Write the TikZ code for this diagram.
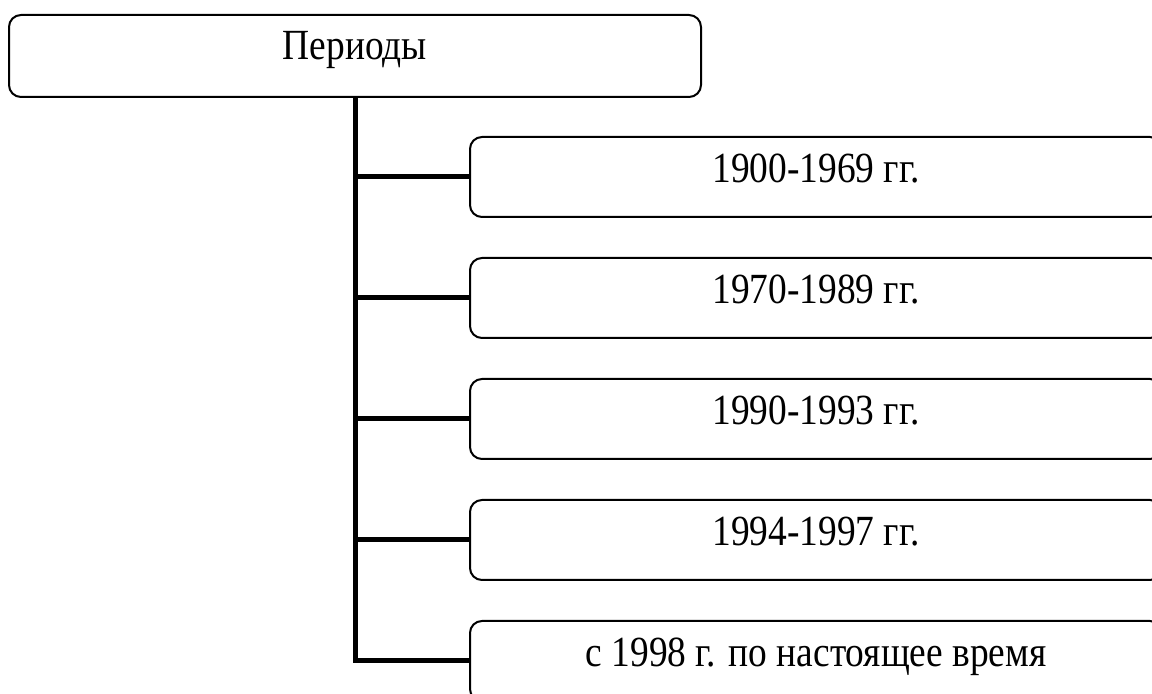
\documentclass[tikz,border=0pt]{standalone}
\usepackage{fontspec}
\setmainfont{Liberation Serif}[FakeStretch=0.87]
\usepackage{tikz}
\tikzset{
	head box/.style={rectangle, rounded corners=6pt, draw=black, line width=1pt, minimum width=346pt, minimum height=41pt, inner sep=0pt, text height=15pt, text depth=11.5pt, font=\fontsize{21.5pt}{25pt}\selectfont},
	period box/.style={rectangle, rounded corners=6pt, draw=black, line width=1pt, minimum width=346pt, minimum height=40pt, inner sep=0pt, text height=15pt, text depth=9pt, font=\fontsize{21.5pt}{25pt}\selectfont},
	branch/.style={line width=2.5pt, line join=miter},
}

\begin{document}
\begin{tikzpicture}[x=0.5pt, y=-0.5pt]
	\useasboundingbox (0,0) rectangle (1152,694);
	\clip (0,0) rectangle (1152,694);
	\node[head box] (top) at (355,56) {Периоды};
	\node[period box] (p1) at (816,177) {1900-1969 гг.};
	\node[period box] (p2) at (816,298) {1970-1989 гг.};
	\node[period box] (p3) at (816,419) {1990-1993 гг.};
	\node[period box] (p4) at (816,540) {1994-1997 гг.};
	\node[period box] (p5) at (816,661) {с 1998 г. по настоящее время};
	\draw[branch] (top.south) -- (top.south |- p5.west) -- (p5.west);
	\foreach \n in {p1,p2,p3,p4}
		\draw[branch] (top.south |- \n.west) -- (\n.west);
\end{tikzpicture}
\end{document}
